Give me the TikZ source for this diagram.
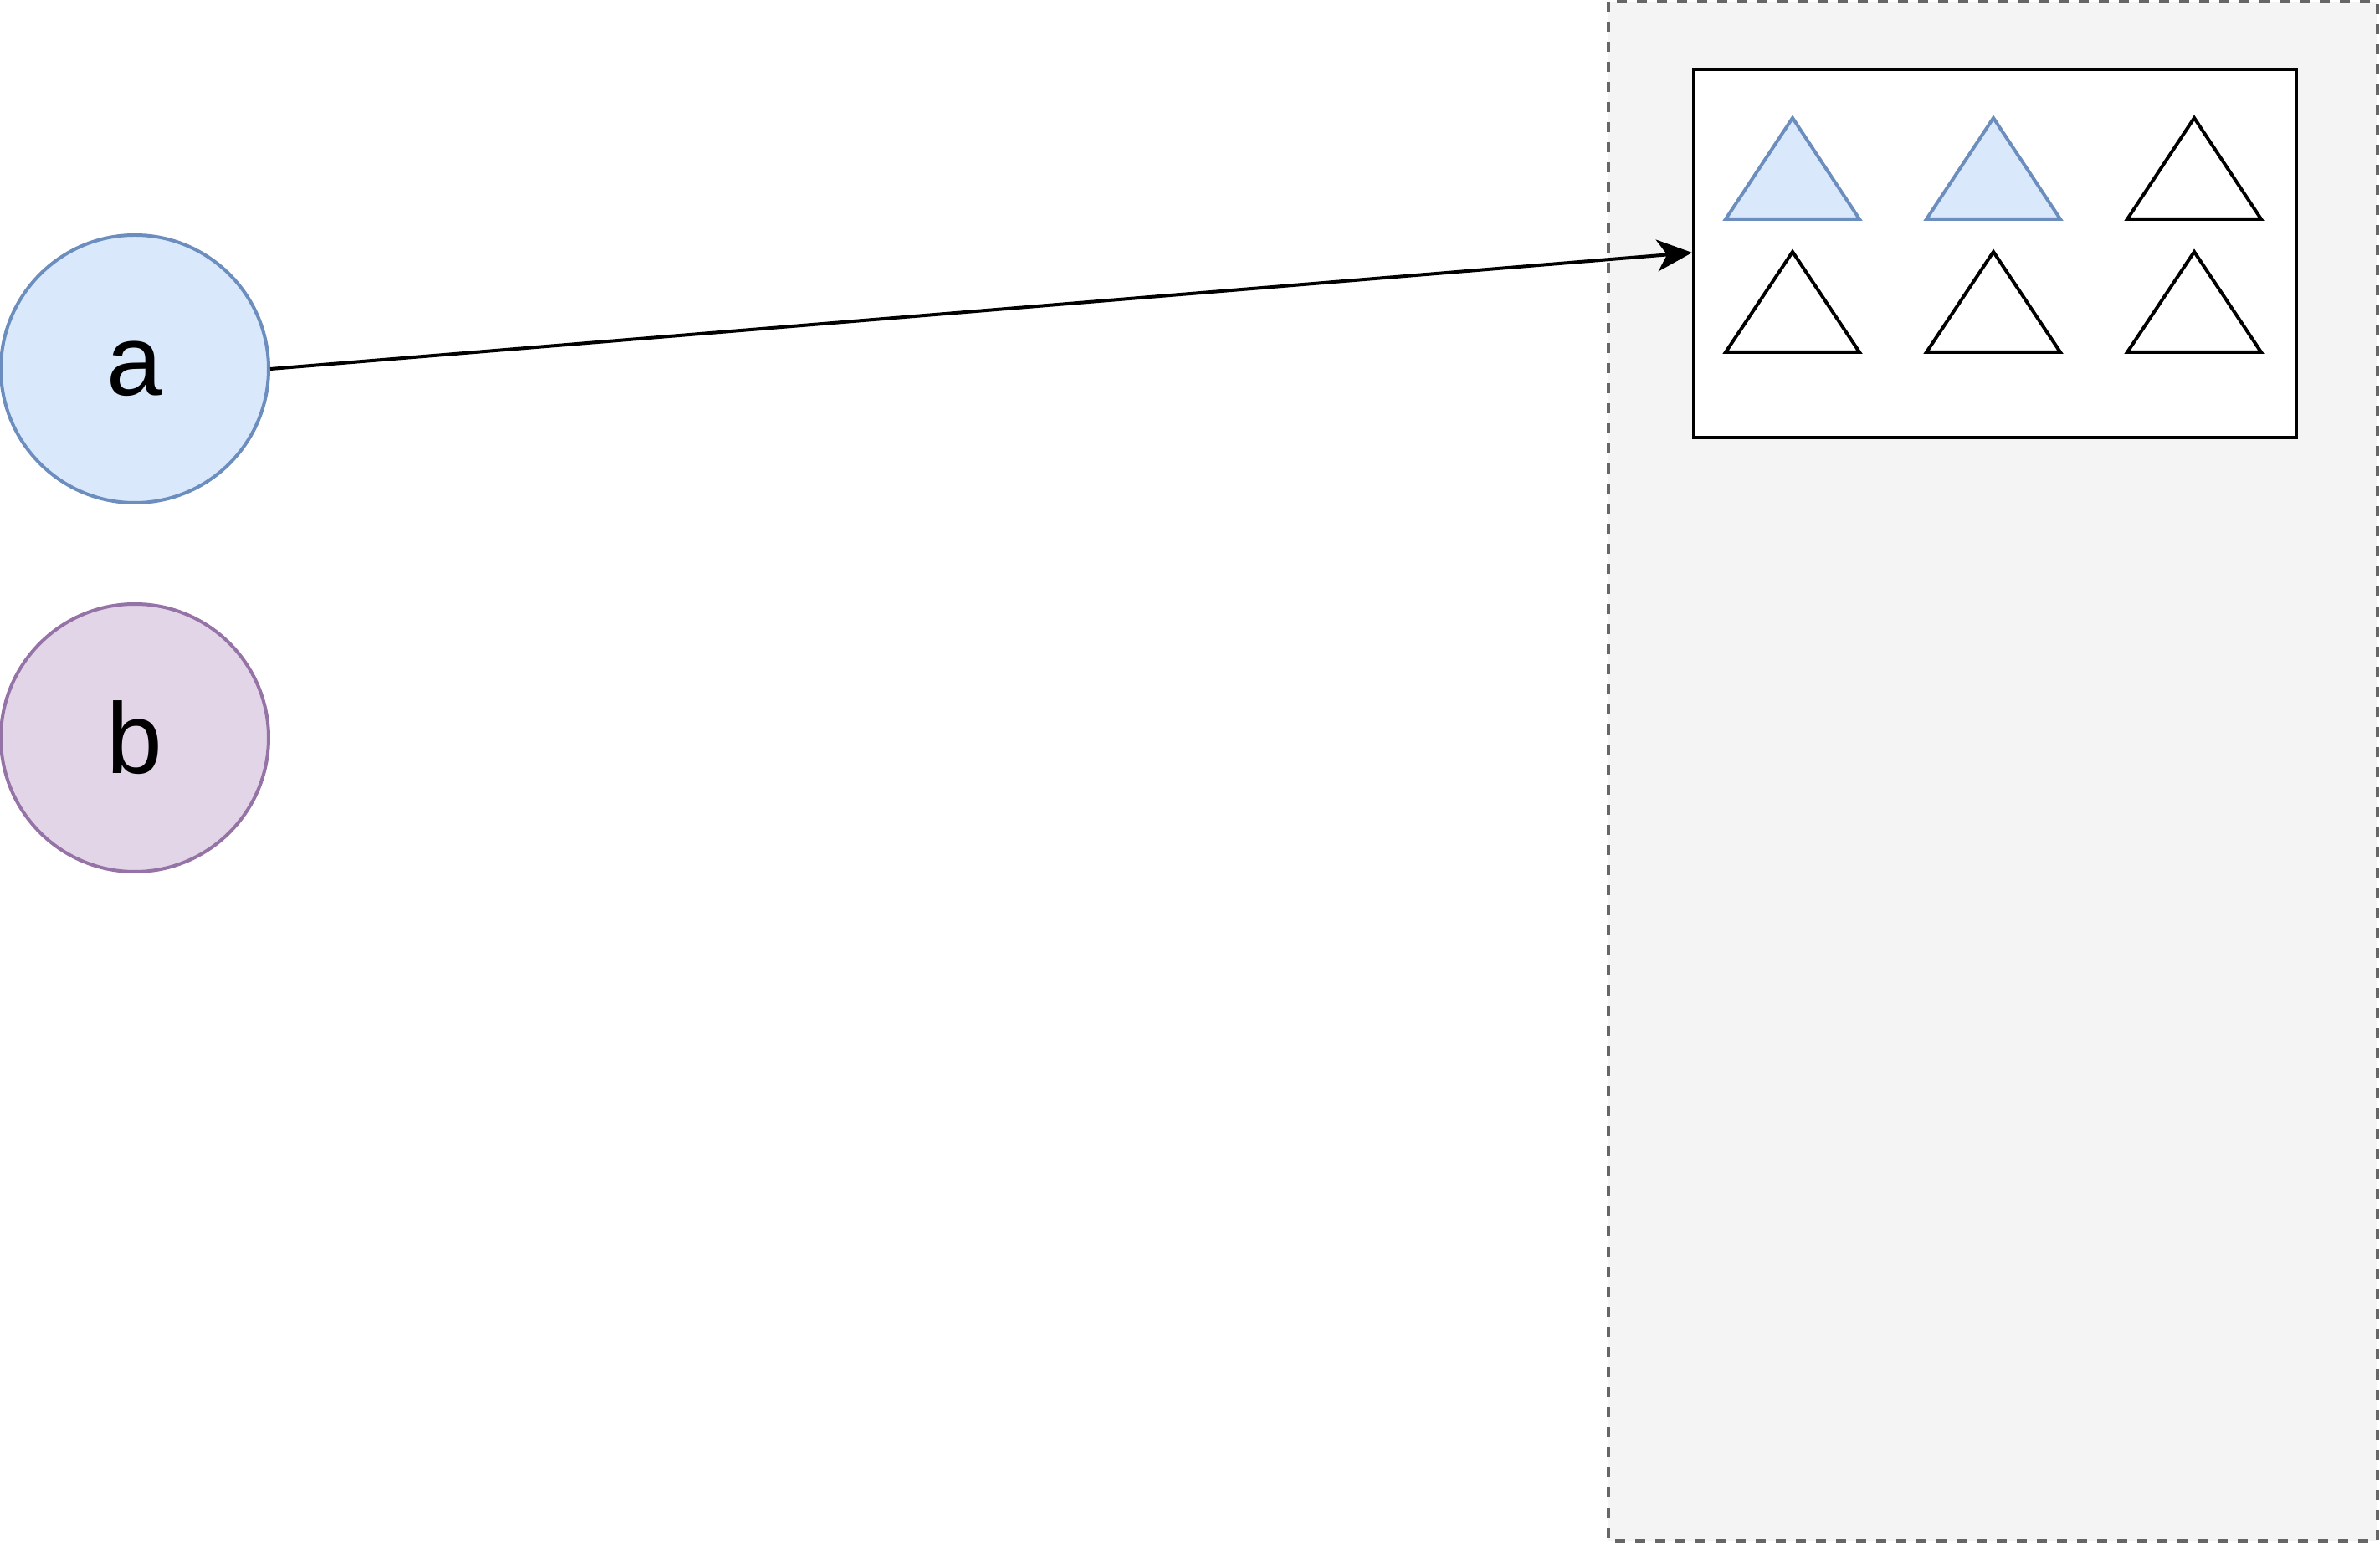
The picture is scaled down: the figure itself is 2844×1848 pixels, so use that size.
\documentclass[tikz,border=0pt]{standalone}
\usepackage{fontspec}
\setmainfont{Liberation Sans}
\usetikzlibrary{arrows.meta}
\definecolor{bluefill}{HTML}{DAE8FC}
\definecolor{bluedraw}{HTML}{6C8EBF}
\definecolor{purplefill}{HTML}{E1D5E7}
\definecolor{purpledraw}{HTML}{9673A6}
\definecolor{grayfill}{HTML}{F4F4F4}
\definecolor{graydraw}{HTML}{666666}
\begin{document}
\begin{tikzpicture}[x=0.25pt,y=-0.25pt,
  circ/.style={circle,minimum size=80pt,inner sep=0pt,line width=1pt,
    font=\fontsize{30}{36}\selectfont},
  bluecirc/.style={circ,draw=bluedraw,fill=bluefill},
  purplecirc/.style={circ,draw=purpledraw,fill=purplefill},
  tribox/.style={draw=black,fill=white,line width=1pt},
  triblue/.style={draw=bluedraw,fill=bluefill,line width=1pt},
  triplain/.style={draw=black,fill=white,line width=1pt},
  conn/.style={draw=black,line width=1pt,-{Stealth[length=10.5pt,width=9.5pt,inset=3pt]}}]
\useasboundingbox (0,0) rectangle (2844,1848);
% dashed container
\draw[fill=grayfill,draw=graydraw,line width=1pt,dash pattern=on 3pt off 3pt]
  (1922,2) rectangle (2841,1842);
% inner box
\node[tribox,minimum width=180pt,minimum height=110pt,inner sep=0pt,anchor=north west]
  (box) at (2022,81) {};
% triangles
\foreach \cx/\st in {2142/triblue,2382/triblue,2622/triplain}{
  \draw[\st] (\cx,141) -- (\cx+80,262) -- (\cx-80,262) -- cycle;
}
\foreach \cx in {2142,2382,2622}{
  \draw[triplain] (\cx,301) -- (\cx+80,421) -- (\cx-80,421) -- cycle;
}
% circles
\node[bluecirc] (a) at (161,441) {a};
\node[purplecirc] (b) at (161,882) {b};
% connector
\coordinate (tip) at (2022,302);
\draw[conn] (a.east) -- (tip);
\end{tikzpicture}
\end{document}
